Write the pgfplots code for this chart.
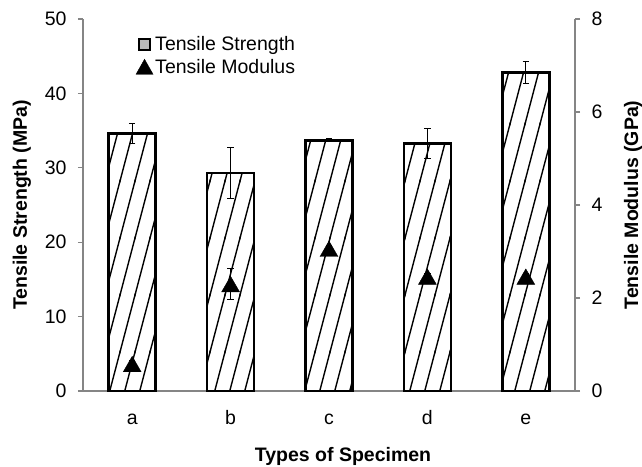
\documentclass[border=0pt]{standalone}
\usepackage{fontspec}
\setmainfont{Liberation Sans}
\usepackage{pgfplots}
\usepackage{pgfplotstable}
\pgfplotsset{compat=1.18}
\usetikzlibrary{patterns.meta}

% steep single hatching used inside the bars
\pgfdeclarepattern{
  name=steephatch,
  type=uncolored,
  bottom left={\pgfpoint{-1pt}{-2pt}},
  top right={\pgfpoint{16pt}{59pt}},
  tile size={\pgfpoint{15pt}{57pt}},
  code={
    \pgfsetlinewidth{1.4pt}
    \pgfpathmoveto{\pgfpoint{-0.4pt}{-1.52pt}}
    \pgfpathlineto{\pgfpoint{15.4pt}{58.52pt}}
    \pgfusepath{stroke}
  }
}

\definecolor{axisgray}{HTML}{858585}

% x: specimen, s/se: tensile strength (MPa) and error,
% m/me: tensile modulus (GPa) and error
\pgfplotstableread{
x s    se  m    me
1 34.6 1.4 0.58 0.08
2 29.3 3.4 2.30 0.33
3 33.7 0.2 3.06 0.06
4 33.3 2.0 2.46 0.06
5 42.8 1.5 2.46 0.06
}\datatable

\pgfplotsset{
  common/.style={
    at={(0,0)}, anchor=south west,
    scale only axis, width=492pt, height=372pt,
    xmin=0.5, xmax=5.5,
    font=\fontsize{19.5}{23}\selectfont,
    /pgf/number format/assume math mode=true,
    axis line style={-, draw=axisgray, line width=1.2pt},
    every tick/.style={draw=axisgray, line width=1.2pt},
    major tick length=5pt,
    tick align=outside,
    clip=false,
  },
  errstyle/.style={
    error bars/.cd, y dir=both, y explicit,
    error bar style={draw=black, line width=1pt},
    error mark options={draw=black, rotate=90, mark size=3.2pt, line width=1pt},
  },
}

\begin{document}
\begin{tikzpicture}
\path[use as bounding box] (-83pt,-75pt) rectangle (559pt,391pt);

% tensile strength bars on the left axis
\begin{axis}[
  common,
  ymin=0, ymax=50, ytick={0,10,...,50},
  axis x line*=bottom, axis y line*=left,
  xtick={1,2,3,4,5},
  xticklabels={a,b,c,d,e},
  xtick style={draw=none},
  xticklabel style={anchor=base, yshift=-28pt},
  extra x ticks={0.5,1.5,2.5,3.5,4.5,5.5},
  extra x tick labels={},
  extra x tick style={tick align=inside, major tick length=7pt, draw=axisgray},
  yticklabel style={xshift=-8pt},
  xlabel={\bfseries Types of Specimen},
  ylabel={\bfseries Tensile Strength (MPa)},
  every axis x label/.style={at={(axis description cs:0.5,0)}, yshift=-65pt, xshift=14pt, anchor=center},
  every axis y label/.style={at={(axis description cs:0,0.5)}, xshift=-61pt, rotate=90, anchor=center},
]
\addplot[ybar, bar width=47pt, draw=black, line width=2.6pt, fill=white,
  postaction={pattern=steephatch, pattern color=black}]
  table[x=x, y=s] {\datatable};
\addplot[draw=none, mark=none, errstyle]
  table[x=x, y=s, y error=se] {\datatable};
\end{axis}

% tensile modulus on the right axis
\begin{axis}[
  common,
  ymin=0, ymax=8, ytick={0,2,...,8},
  axis x line=none, axis y line*=right,
  yticklabel style={xshift=8pt},
  ylabel={\bfseries Tensile Modulus (GPa)},
  every axis y label/.style={at={(axis description cs:1,0.5)}, xshift=58pt, rotate=90, anchor=center},
  legend style={at={(axis description cs:0.107,0.958)}, anchor=north west,
    draw=none, fill=none, inner sep=0pt, row sep=3pt,
    font=\fontsize{19.5}{23}\selectfont, cells={anchor=west}},
  legend cell align=left,
]
\addlegendimage{legend image code/.code={
  \draw[black, line width=2.2pt, fill=gray!55] (1pt,-5.5pt) rectangle (12pt,5.5pt);}}
\addlegendentry{Tensile Strength}
\addlegendimage{legend image code/.code={
  \fill[black] (-2pt,-7pt) -- (15pt,-7pt) -- (6.5pt,8pt) -- cycle;}}
\addlegendentry{Tensile Modulus}
\addplot[only marks, mark=triangle*, mark size=10.3pt, forget plot,
  mark options={black, yshift=-2.6pt}, errstyle]
  table[x=x, y=m, y error=me] {\datatable};
\end{axis}
\end{tikzpicture}
\end{document}
